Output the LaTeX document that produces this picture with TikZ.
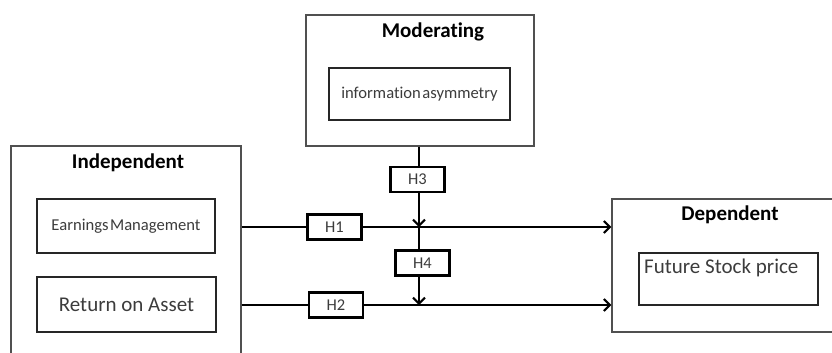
\documentclass[tikz,border=0pt]{standalone}
\usepackage{fontspec}
\setmainfont[Ligatures=NoCommon]{Carlito}
\usetikzlibrary{arrows.meta}
\definecolor{txtgray}{RGB}{60,60,60}
\definecolor{boxgray}{RGB}{80,80,80}
\begin{document}
\begin{tikzpicture}[x=1bp,y=-1bp,
  outerbox/.style={draw=boxgray,line width=1.4bp,inner sep=0pt},
  innerbox/.style={draw=black!85,line width=1.3bp,inner sep=0pt,text=txtgray},
  hbox/.style={draw=black,line width=2.2bp,fill=white,inner sep=0pt,
    minimum width=54bp,minimum height=25bp,text=txtgray,
    font=\fontsize{16.5bp}{18bp}\selectfont},
  title/.style={font=\fontsize{21bp}{24bp}\selectfont\bfseries,text=black},
  link/.style={line width=2bp},
  tip/.style={link,-{Straight Barb[length=6bp,width=12bp,line width=2bp]}}]
\useasboundingbox (0,0) rectangle (832,352);
\clip (0,0) rectangle (832,352);
% outer boxes
\node[outerbox,minimum width=228bp,minimum height=131bp] (mod) at (420,80.5) {};
\node[outerbox,minimum width=230bp,minimum height=230bp] (ind) at (126,261) {};
\node[outerbox,minimum width=240bp,minimum height=133bp] (dep) at (732,265.5) {};
\node[title] (modt) at (433,32) {Moderating};
\node[title] (indt) at (128,163) {Independent};
\node[title] (dept) at (730,215) {Dependent};
% variables
\node[innerbox,minimum width=181bp,minimum height=52bp,
  font=\fontsize{16.6bp}{18bp}\selectfont] (asym) at (419.5,94)
  {information\hspace{1.5bp}asymmetry};
\node[innerbox,minimum width=178bp,minimum height=54bp,
  font=\fontsize{16.6bp}{18bp}\selectfont] (earn) at (126,226)
  {Earnings\hspace{1.5bp}Management};
\node[innerbox,minimum width=179bp,minimum height=55bp,
  font=\fontsize{21bp}{24bp}\selectfont] (roa) at (126.5,304.5)
  {Return on Asset};
\node[innerbox,minimum width=179bp,minimum height=52bp] (price) at (728.5,279) {};
\node[anchor=west,text=txtgray,inner sep=0pt,
  font=\fontsize{21bp}{24bp}\selectfont] (pricet) at (644,268) {Future Stock price};
% hypotheses
\node[hbox] (h1) at (334.5,227) {H1};
\node[hbox] (h2) at (336,305) {H2};
\node[hbox] (h3) at (417.5,179.5) {H3};
\node[hbox] (h4) at (422.5,263) {H4};
\coordinate (vx) at (419,0);
\coordinate (m1) at (vx |- h1);
\coordinate (m2) at (vx |- h2);
% paths
\draw[link] (ind.east |- h1) -- (h1.west);
\draw[tip] (h1.east) -- (dep.west |- h1);
\draw[link] (ind.east |- h2) -- (h2.west);
\draw[tip] (h2.east) -- (dep.west |- h2);
\draw[link] (mod.south -| vx) -- (h3.north -| vx);
\draw[tip] (h3.south -| vx) -- (m1);
\draw[link] (m1) -- (h4.north -| vx);
\draw[tip] (h4.south -| vx) -- (m2);
\end{tikzpicture}
\end{document}
